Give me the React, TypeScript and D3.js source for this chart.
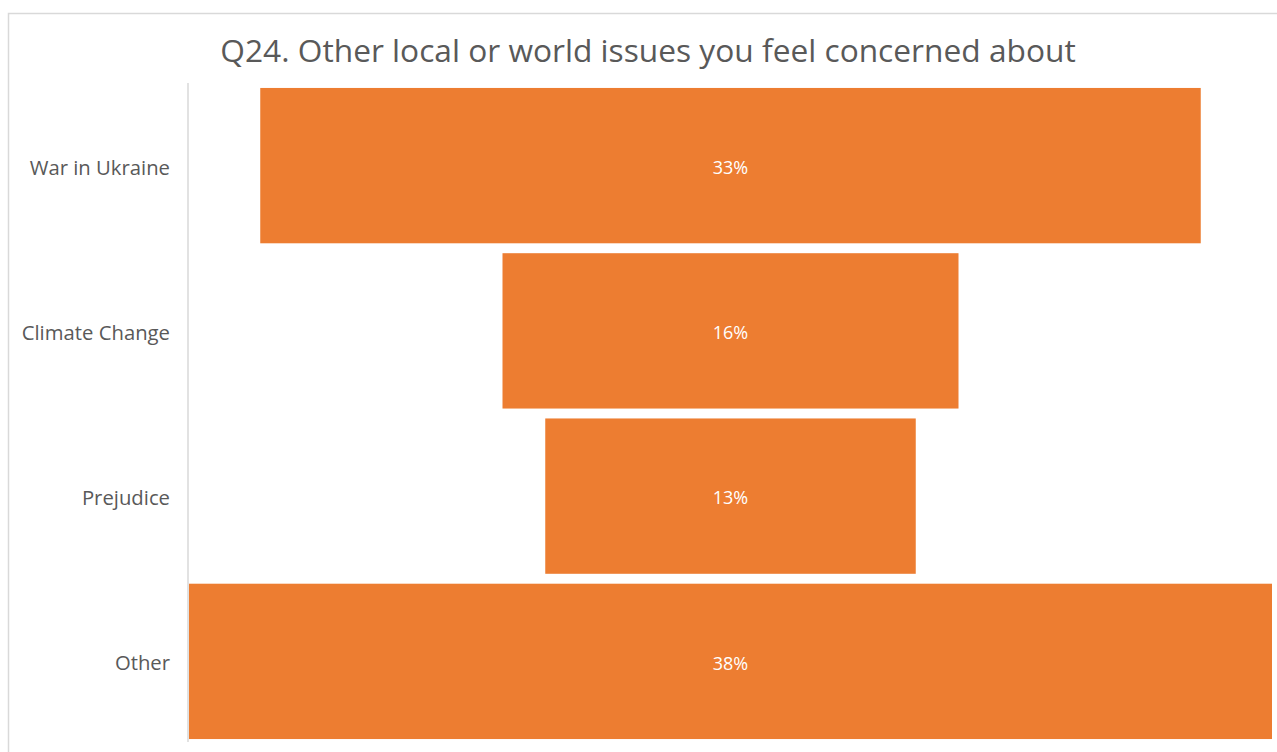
import * as d3 from 'd3';

const categories = ['War in Ukraine', 'Climate Change', 'Prejudice', 'Other'];
const values = [33, 16, 13, 38];
const title = 'Q24. Other local or world issues you feel concerned about';

const width = 1277;
const height = 752;
const plotLeft = 189;
const plotRight = 1272;
const font = "'Open Sans', 'Noto Sans', sans-serif";

export default function App() {
  const y = d3
    .scaleBand<string>()
    .domain(categories)
    .range([83, 744])
    .paddingInner(0.06)
    .paddingOuter(0.03);
  const w = d3.scaleLinear().domain([0, d3.max(values) as number]).range([0, plotRight - plotLeft]);
  const cx = (plotLeft + plotRight) / 2;

  return (
    <svg
      width={width}
      height={height}
      style={{ position: 'fixed', left: 0, top: 0, background: '#fff' }}
    >
      <rect x={8.5} y={13.5} width={width + 10} height={height + 10} fill="#fff" stroke="#d9d9d9" strokeWidth={1.5} />
      <text
        x={648}
        y={62}
        textAnchor="middle"
        fontFamily={font}
        fontSize={31.7}
        fill="#595959"
      >
        {title}
      </text>
      <line x1={188} x2={188} y1={83} y2={742} stroke="#d9d9d9" strokeWidth={1.5} />
      {categories.map((c, i) => {
        const bw = w(values[i]);
        const by = y(c) as number;
        const mid = by + y.bandwidth() / 2 + 2;
        return (
          <g key={c}>
            <rect x={cx - bw / 2} y={by} width={bw} height={y.bandwidth()} fill="#ED7D31" />
            <text
              x={cx}
              y={mid}
              dy="0.35em"
              textAnchor="middle"
              fontFamily={font}
              fontSize={18}
              fill="#fff"
            >
              {values[i]}%
            </text>
            <text
              x={170}
              y={mid}
              dy="0.35em"
              textAnchor="end"
              fontFamily={font}
              fontSize={20.3}
              fill="#595959"
            >
              {c}
            </text>
          </g>
        );
      })}
    </svg>
  );
}
